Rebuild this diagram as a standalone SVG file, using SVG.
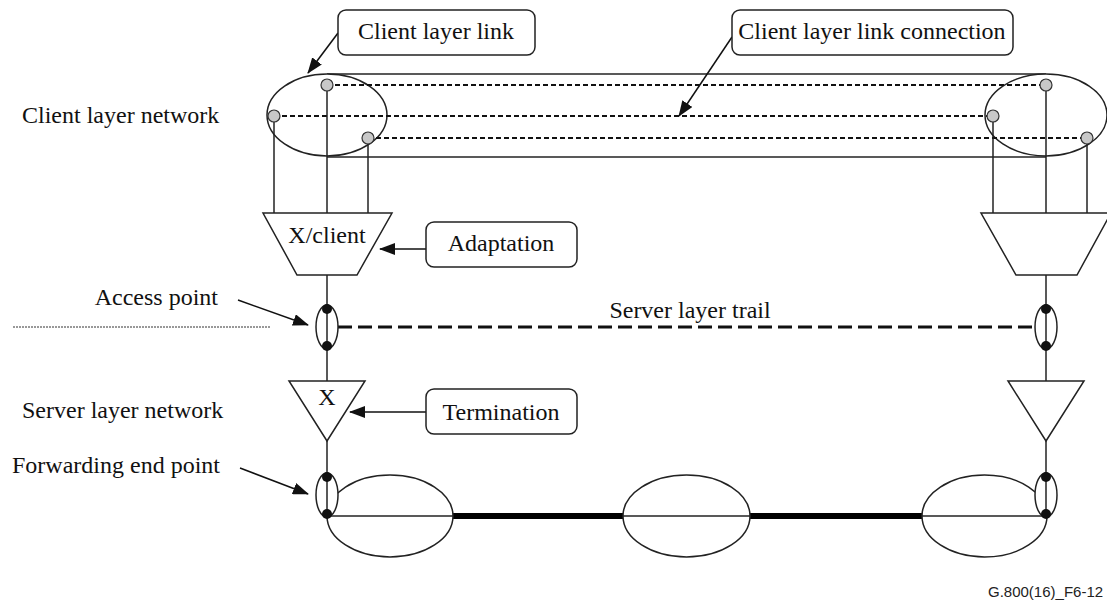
<svg xmlns="http://www.w3.org/2000/svg" width="1107" height="600" viewBox="0 0 1107 600">
<style>
.ln{stroke:#222;stroke-width:1.5;fill:none}
.sh{stroke:#222;stroke-width:1.5;fill:#fff}
.box{stroke:#222;stroke-width:1.5;fill:#fff}
.t{font-family:"Liberation Serif","Times New Roman",serif;font-size:24px;fill:#111}
.gd{fill:#c8c8c8;stroke:#333;stroke-width:1.2}
.bd{fill:#111}
.dsh{stroke:#111;stroke-width:2;stroke-dasharray:5 3;fill:none}
.arr{stroke:#111;stroke-width:1.5;fill:none;marker-end:url(#ah)}
</style>
<defs>
<marker id="ah" viewBox="0 0 16 12" refX="15" refY="6" markerWidth="16" markerHeight="12" markerUnits="userSpaceOnUse" orient="auto">
<path d="M0,0 L16,6 L0,12 Z" fill="#111"/>
</marker>
</defs>
<rect width="1107" height="600" fill="#fff"/>

<g id="labels">
<text class="t" x="22" y="123">Client layer network</text>
<text class="t" x="218" y="305" text-anchor="end">Access point</text>
<text class="t" x="22" y="418">Server layer network</text>
<text class="t" x="12" y="473">Forwarding end point</text>
<text class="t" x="690" y="318" text-anchor="middle">Server layer trail</text>
<text x="988" y="597" font-family="Liberation Sans, Arial, sans-serif" font-size="15" fill="#222">G.800(16)_F6-12</text>
</g>

<g id="client-layer-link-band">
<line class="ln" x1="327" y1="74" x2="1046" y2="74"/>
<line class="ln" x1="327" y1="157" x2="1046" y2="157"/>
</g>

<g id="client-left">
<ellipse class="sh" cx="327" cy="115" rx="60" ry="41"/>
</g>
<g id="client-right">
<ellipse class="sh" cx="1046" cy="115" rx="61" ry="41"/>
</g>

<g id="connectors">
<line class="dsh" x1="327" y1="85" x2="1046" y2="85"/>
<line class="dsh" x1="274" y1="116" x2="993" y2="116"/>
<line class="dsh" x1="368" y1="138" x2="1087" y2="138"/>
<line class="ln" x1="274" y1="116" x2="274" y2="213"/>
<line class="ln" x1="327" y1="85" x2="327" y2="213"/>
<line class="ln" x1="368" y1="138" x2="368" y2="213"/>
<line class="ln" x1="993" y1="116" x2="993" y2="213"/>
<line class="ln" x1="1046" y1="85" x2="1046" y2="213"/>
<line class="ln" x1="1087" y1="138" x2="1087" y2="213"/>
<line class="ln" x1="327" y1="275" x2="327" y2="381"/>
<line class="ln" x1="1046" y1="275" x2="1046" y2="381"/>
<line class="ln" x1="327" y1="441" x2="327" y2="514"/>
<line class="ln" x1="1046" y1="441" x2="1046" y2="514"/>
<line x1="338" y1="327" x2="1035" y2="327" stroke="#111" stroke-width="3" stroke-dasharray="14 6"/>
<line x1="13" y1="327" x2="270" y2="327" stroke="#333" stroke-width="1" stroke-dasharray="2 1"/>
<line class="ln" x1="327" y1="516" x2="1046" y2="516"/>
<line x1="453" y1="516" x2="623" y2="516" stroke="#000" stroke-width="6"/>
<line x1="750" y1="516" x2="922" y2="516" stroke="#000" stroke-width="6"/>
<line class="arr" x1="338" y1="33" x2="308" y2="73"/>
<line class="arr" x1="732" y1="37" x2="679" y2="116"/>
<line class="arr" x1="426" y1="249" x2="380" y2="249"/>
<line class="arr" x1="426" y1="412" x2="350" y2="412"/>
<line class="arr" x1="238" y1="300" x2="308" y2="325"/>
<line class="arr" x1="240" y1="468" x2="308" y2="494"/>
</g>

<g id="client-dots">
<circle class="gd" cx="327" cy="85" r="6"/>
<circle class="gd" cx="274" cy="116" r="6"/>
<circle class="gd" cx="368" cy="138" r="6"/>
<circle class="gd" cx="1046" cy="85" r="6"/>
<circle class="gd" cx="993" cy="116" r="6"/>
<circle class="gd" cx="1087" cy="138" r="6"/>
</g>

<g id="adaptation-left">
<polygon class="sh" points="263,213 392,213 357,275 297,275"/>
<text class="t" x="327" y="243" text-anchor="middle">X/client</text>
</g>
<g id="adaptation-right">
<polygon class="sh" points="981,213 1111,213 1077,275 1016,275"/>
</g>

<g id="access-point-left">
<ellipse class="ln" cx="327" cy="327" rx="11" ry="22"/>
<circle class="bd" cx="327" cy="309" r="5"/>
<circle class="bd" cx="327" cy="346" r="5"/>
</g>
<g id="access-point-right">
<ellipse class="ln" cx="1046" cy="327" rx="11" ry="22"/>
<circle class="bd" cx="1046" cy="309" r="5"/>
<circle class="bd" cx="1046" cy="346" r="5"/>
</g>

<g id="termination-left">
<polygon class="sh" points="289,381 365,381 327,441"/>
<text class="t" x="327" y="405" text-anchor="middle">X</text>
</g>
<g id="termination-right">
<polygon class="sh" points="1008,381 1084,381 1046,441"/>
</g>

<g id="subnet-left">
<ellipse class="ln" cx="390" cy="516" rx="63" ry="41"/>
</g>
<g id="subnet-middle">
<ellipse class="ln" cx="686.5" cy="516" rx="63.5" ry="41"/>
</g>
<g id="subnet-right">
<ellipse class="ln" cx="984.5" cy="516" rx="62.5" ry="41"/>
</g>

<g id="fep-left">
<ellipse class="sh" cx="327" cy="495" rx="11" ry="22"/>
<line class="ln" x1="327" y1="477" x2="327" y2="514"/>
<circle class="bd" cx="327" cy="477" r="5"/>
<circle class="bd" cx="327" cy="514" r="5"/>
</g>
<g id="fep-right">
<ellipse class="sh" cx="1046" cy="495" rx="11" ry="22"/>
<line class="ln" x1="1046" y1="477" x2="1046" y2="514"/>
<circle class="bd" cx="1046" cy="477" r="5"/>
<circle class="bd" cx="1046" cy="514" r="5"/>
</g>

<g id="callout-client-layer-link">
<rect class="box" x="338" y="10" width="197" height="45" rx="8"/>
<text class="t" x="436" y="39" text-anchor="middle">Client layer link</text>
</g>
<g id="callout-client-layer-link-connection">
<rect class="box" x="732" y="10" width="281" height="45" rx="8"/>
<text class="t" x="872" y="39" text-anchor="middle">Client layer link connection</text>
</g>
<g id="callout-adaptation">
<rect class="box" x="426" y="222" width="151" height="45" rx="8"/>
<text class="t" x="501" y="251" text-anchor="middle">Adaptation</text>
</g>
<g id="callout-termination">
<rect class="box" x="426" y="389" width="151" height="45" rx="8"/>
<text class="t" x="501" y="420" text-anchor="middle">Termination</text>
</g>
</svg>
